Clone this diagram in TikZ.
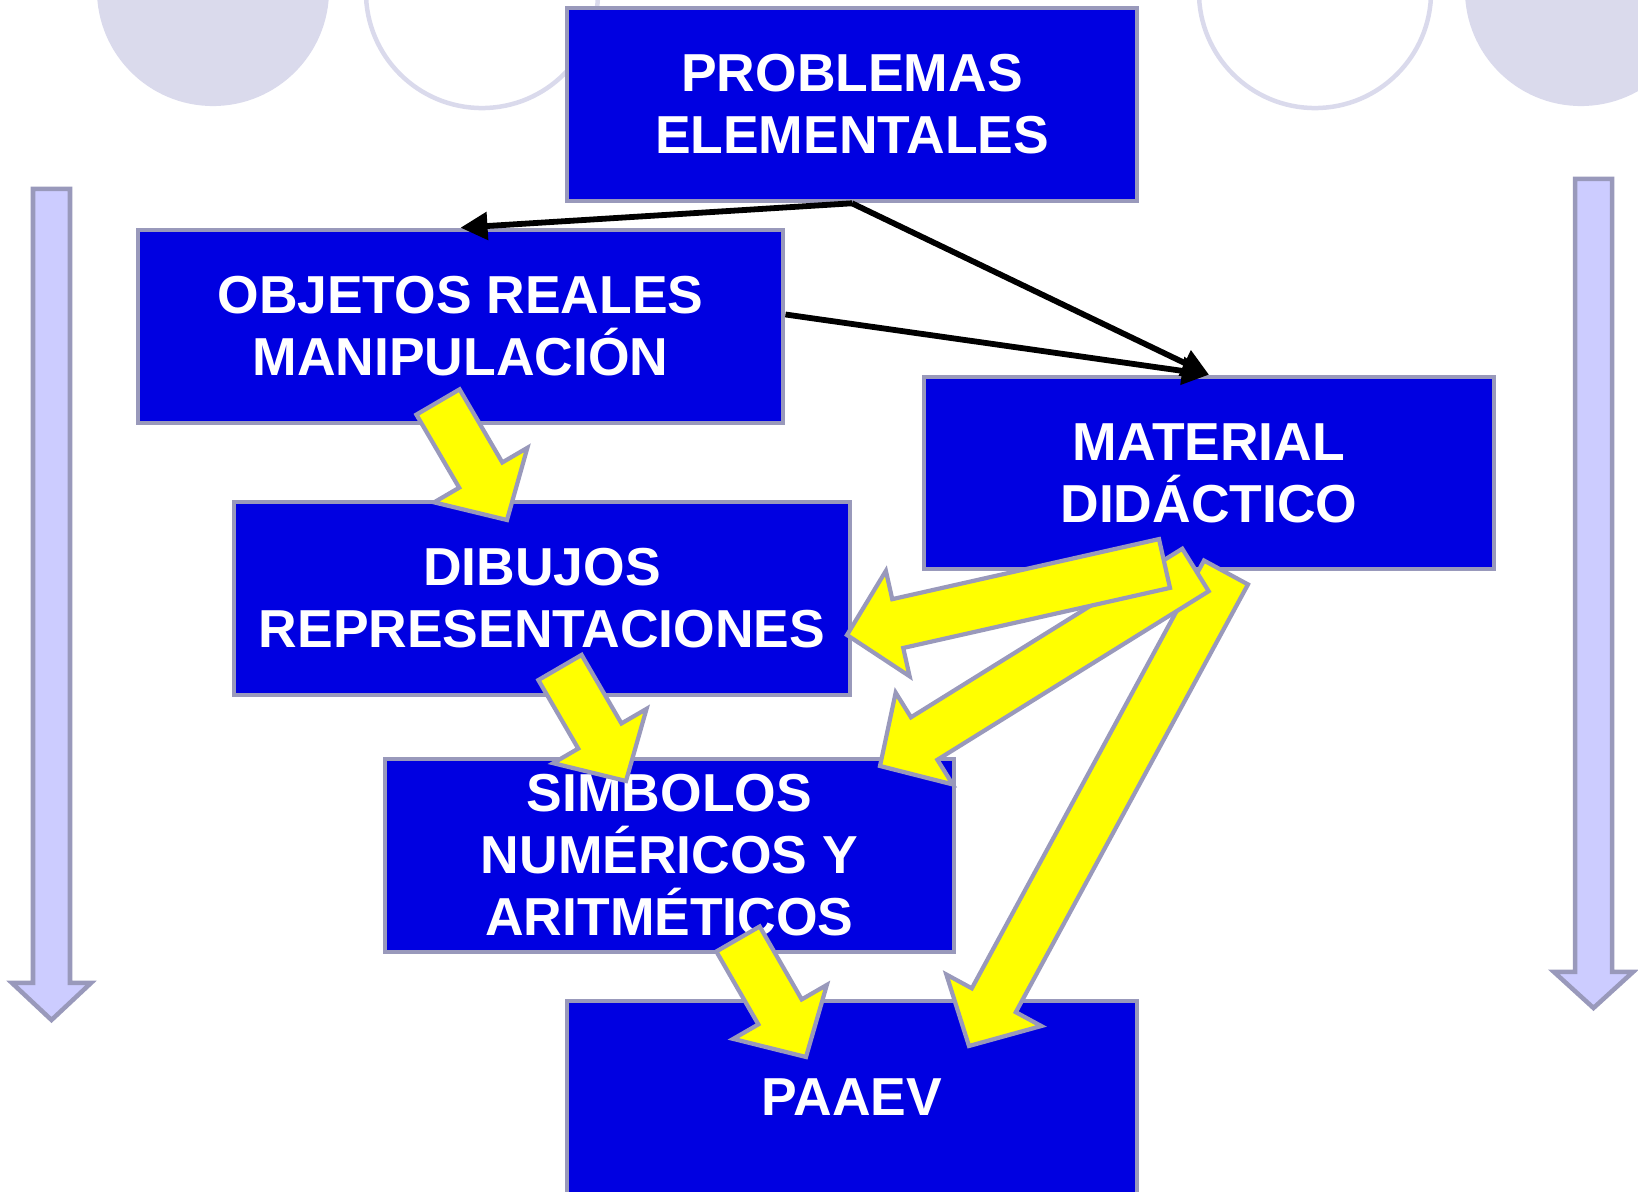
\documentclass[tikz,border=0pt]{standalone}
\usepackage{fontspec}
\setsansfont{Liberation Sans}
\usetikzlibrary{calc,arrows.meta}
\definecolor{boxblue}{RGB}{0,0,225}
\definecolor{boxline}{RGB}{153,153,187}
\definecolor{arryellow}{RGB}{255,255,0}
\definecolor{sidefill}{RGB}{204,204,255}
\definecolor{circfill}{RGB}{218,218,236}
\newcommand{\yarrow}[2]{%
  \draw[yarr] ($(#1)!0.25cm!90:(#2)$)
    -- ($(#2)!0.52cm!(#1)!0.25cm!90:(#2)$)
    -- ($(#2)!0.52cm!(#1)!0.54cm!90:(#2)$)
    -- (#2)
    -- ($(#2)!0.52cm!(#1)!0.54cm!-90:(#2)$)
    -- ($(#2)!0.52cm!(#1)!0.25cm!-90:(#2)$)
    -- ($(#1)!0.25cm!-90:(#2)$) -- cycle;}

\begin{document}
\begin{tikzpicture}[x=0.01cm, y=-0.01cm]
    \tikzstyle{box} = [draw=boxline, fill=boxblue, line width=0.045cm, text=white, align=center,
      inner sep=0pt, font=\sffamily\bfseries\fontsize{15.2}{17.6}\selectfont]
    \tikzstyle{link} = [line width=0.058cm, -{Triangle[length=0.27cm,width=0.27cm]}]
    \tikzstyle{yarr} = [draw=boxline, fill=arryellow, line width=0.042cm, line join=miter]
    \tikzstyle{side} = [draw=boxline, fill=sidefill, line width=0.045cm]
    \tikzstyle{disc} = [fill=circfill]
    \tikzstyle{ring} = [draw=circfill, line width=0.045cm]
    \useasboundingbox (0,0) rectangle (1638,1192);
    % background circles
    \fill[disc] (213,-10) circle (1.16cm);
    \draw[ring] (482,-8) circle (1.16cm);
    \draw[ring] (1315,-8) circle (1.16cm);
    \fill[disc] (1581,-10) circle (1.16cm);
    % side arrows
    \draw[side] (33,189) -- (70,189) -- (70,983) -- (91,983) -- (51.5,1020) -- (12,983) -- (33,983) -- cycle;
    \draw[side] (1575,179) -- (1612,179) -- (1612,972) -- (1633,972) -- (1593.5,1008) -- (1554,972) -- (1575,972) -- cycle;
    % boxes
    \node[box, minimum width=5.70cm, minimum height=1.93cm] (prob) at (852,104.5) {PROBLEMAS\\ELEMENTALES};
    \node[box, minimum width=6.45cm, minimum height=1.93cm] (obj) at (460.5,326.5) {OBJETOS REALES\\MANIPULACIÓN};
    \node[box, minimum width=5.70cm, minimum height=1.92cm] (mat) at (1209,473) {MATERIAL\\DIDÁCTICO};
    \node[box, minimum width=6.16cm, minimum height=1.93cm] (dib) at (542,598.5) {DIBUJOS\\REPRESENTACIONES};
    \node[box, minimum width=5.69cm, minimum height=1.93cm] (sim) at (669.5,855.5) {SIMBOLOS\\NUMÉRICOS Y\\ARITMÉTICOS};
    \node[box, minimum width=5.70cm, minimum height=1.93cm] (paaev) at (852,1097.5) {PAAEV};
    \draw[link] (prob.south) -- (obj.north);
    \draw[link] (prob.south) -- (mat.north);
    \draw[link] ($(obj.east)+(0,-12)$) -- (mat.north);
    % yellow arrows
    \coordinate (obj-out) at (438,402);
    \coordinate (dib-in) at (507,520);
    \coordinate (dib-out) at (560,667.5);
    \coordinate (sim-in) at (626,781);
    \coordinate (sim-out) at (738,939);
    \coordinate (paaev-in) at (806,1057);
    \coordinate (mat-out1) at (1164.5,563.5);
    \coordinate (dib-in2) at (847,635);
    \coordinate (mat-out2) at (1195.5,570);
    \coordinate (sim-in2) at (880,766);
    \coordinate (mat-out3) at (1226,572.5);
    \coordinate (paaev-in2) at (969,1046);
    \yarrow{obj-out}{dib-in}
    \yarrow{dib-out}{sim-in}
    \yarrow{sim-out}{paaev-in}
    \yarrow{mat-out3}{paaev-in2}
    \yarrow{mat-out2}{sim-in2}
    \yarrow{mat-out1}{dib-in2}
\end{tikzpicture}
\end{document}
